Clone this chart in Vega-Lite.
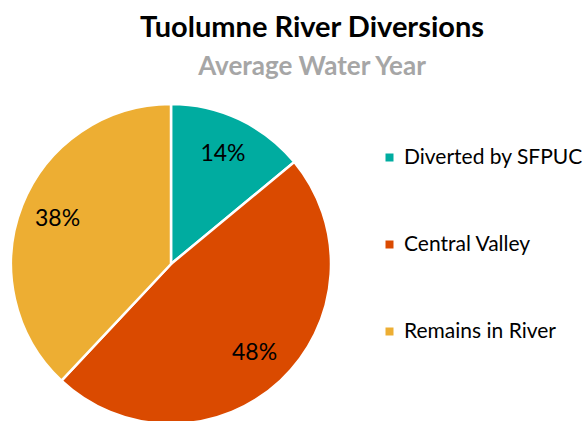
{
  "$schema": "https://vega.github.io/schema/vega-lite/v6.json",
  "autosize": "none",
  "width": 320,
  "height": 320,
  "padding": {"left": 11, "top": 104, "right": 253, "bottom": 0},
  "background": "white",
  "title": {
    "text": "Tuolumne River Diversions",
    "subtitle": "Average Water Year",
    "anchor": "middle",
    "frame": "group",
    "dx": 141,
    "offset": 19,
    "font": "Lato",
    "fontSize": 29,
    "fontWeight": "bold",
    "color": "#000000",
    "subtitleFont": "Lato",
    "subtitleFontSize": 26,
    "subtitleFontWeight": "bold",
    "subtitleColor": "#A6A6A6",
    "subtitlePadding": 11
  },
  "data": {
    "values": [
      {"category": "Diverted by SFPUC", "share": 14, "label": "14%", "order": 1},
      {"category": "Central Valley", "share": 48, "label": "48%", "order": 2},
      {"category": "Remains in River", "share": 38, "label": "38%", "order": 3}
    ]
  },
  "encoding": {
    "theta": {"field": "share", "type": "quantitative", "stack": true},
    "order": {"field": "order", "type": "quantitative"},
    "color": {
      "field": "category",
      "type": "nominal",
      "sort": ["Diverted by SFPUC", "Central Valley", "Remains in River"],
      "scale": {
        "domain": ["Diverted by SFPUC", "Central Valley", "Remains in River"],
        "range": ["#00ACA0", "#DA4A00", "#EDAE33"]
      },
      "legend": {
        "title": null,
        "orient": "none",
        "legendX": 368,
        "legendY": 43,
        "symbolType": "square",
        "symbolSize": 64,
        "symbolStrokeWidth": 0,
        "labelFont": "Lato",
        "labelFontSize": 21,
        "labelColor": "#000000",
        "labelOffset": 4,
        "rowPadding": 65,
        "labelLimit": 300
      }
    }
  },
  "layer": [
    {
      "mark": {"type": "arc", "outerRadius": 160, "stroke": "white", "strokeWidth": 2.5}
    },
    {
      "mark": {"type": "text", "radius": 122, "font": "Lato", "fontSize": 23, "color": "#000000"},
      "encoding": {
        "text": {"field": "label", "type": "nominal"},
        "color": {"value": "#000000"}
      }
    }
  ]
}
